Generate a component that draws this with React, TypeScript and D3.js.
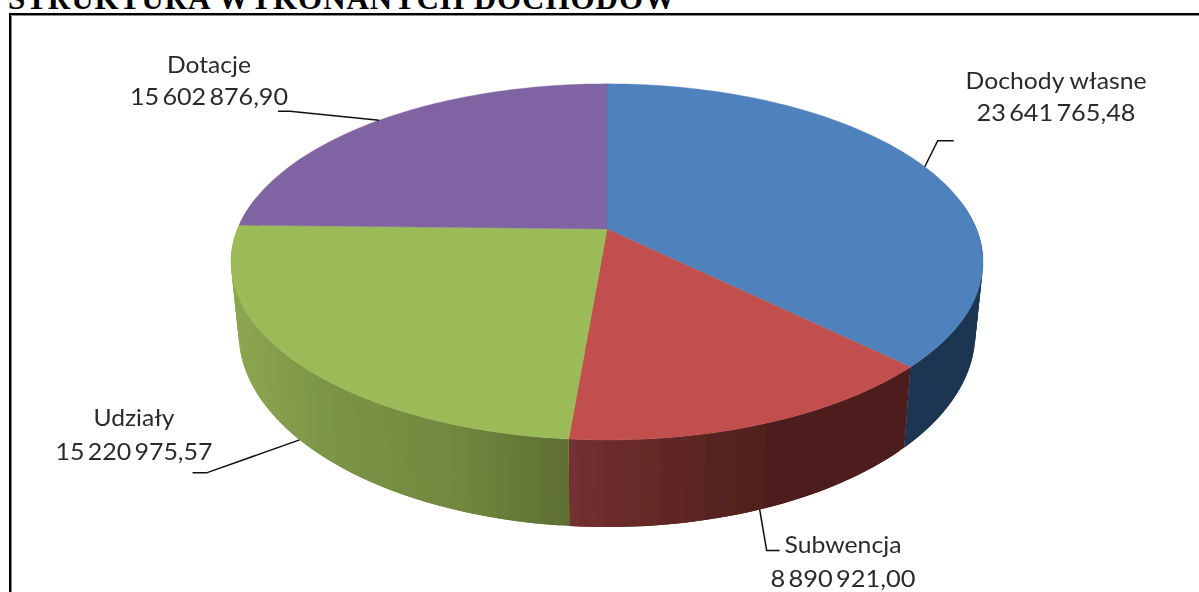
import React from "react";
import * as d3 from "d3";

const title = "STRUKTURA WYKONANYCH DOCHODÓW";
const categories = ["Dochody własne", "Subwencja", "Udziały", "Dotacje"];
const values = [23641765.48, 8890921.0, 15220975.57, 15602876.9];
const valueLabels = ["23 641 765,48", "8 890 921,00", "15 220 975,57", "15 602 876,90"];
const topColors = ["#4f81bd", "#c0504d", "#9bbb59", "#8064a2"];
const wallStops = [
  { xs: [600, 1000], cs: ["#1f3552", "#1f3552"] },
  { xs: [569, 770], cs: ["#743030", "#4e1f1c"] },
  { xs: [235, 330, 450, 569], cs: ["#8ca650", "#7a9446", "#72893f", "#5d6e32"] },
  { xs: [0, 1000], cs: ["#6a5388", "#6a5388"] },
];
// leader elbows relative to the anchor: [dx, dy] pairs
const leaderElbows = [
  [[13, -26], [29, -26]],
  [[7, 41], [20, 41]],
  [[-93, 33], [-107, 33]],
  [[-89, -9], [-101, -9]],
];
const anchorOnWall = [false, true, true, false];
const labelPos = [
  { x: 1056, y: [89, 121], w: [181, 159] },
  { x: 843, y: [553, 587], w: [117, 145] },
  { x: 134, y: [426, 460], w: [81, 157] },
  { x: 209, y: [73, 105], w: [84, 158] },
];

const cx = 607, cy = 229;
const k = 0.185;
const topA = 369.5, topB = 172;
const botA = 362, botB = 187.5, botCy = 297;

const proj = (t: number, A: number, B: number, yc: number): [number, number] => {
  const u = Math.sin(t), v = -Math.cos(t);
  const d = 1 - k * v;
  return [cx + (A * u) / d, yc + (B * v) / d];
};
const top = (t: number) => proj(t, topA, topB, cy);
const bot = (t: number) => proj(t, botA, botB, botCy);

const arcs = d3.pie<number>().sort(null).startAngle(0).endAngle(2 * Math.PI)(values);
const line = d3.line();

const STEP = (1.2 * Math.PI) / 180;
const samples = (a: number, b: number) => {
  const n = Math.max(2, Math.ceil((b - a) / STEP));
  return d3.range(n + 1).map((i) => a + ((b - a) * i) / n);
};

export default function App() {
  return (
    <svg width={1199} height={592} style={{ position: "absolute", left: 0, top: 0, background: "#fff" }}>
      <defs>
        <filter id="soft" x="0" y="0" width="1199" height="592" filterUnits="userSpaceOnUse" primitiveUnits="userSpaceOnUse">
          <feGaussianBlur stdDeviation="0.45" />
        </filter>
      </defs>
      <text x={8} y={8.5} fontFamily="Liberation Serif" fontWeight="bold" fontSize={31} fill="#000"
        textLength={667} lengthAdjust="spacing">{title}</text>
      <path d="M1199,14H10V592" fill="none" stroke="#000" strokeWidth={2} />
      <path d="M1199,15.5H11.5V592" fill="none" stroke="#888" strokeWidth={1} />

      <g filter="url(#soft)">
        {arcs.map((a, i) => {
          const ts = samples(a.startAngle, a.endAngle);
          const sc = d3.scaleLinear<string>().domain(wallStops[i].xs).range(wallStops[i].cs).clamp(true);
          return (
            <g key={"w" + i}>
              {ts.slice(1).map((t, j) => {
                const p = ts[j];
                if (-Math.cos(p) < -0.15 && -Math.cos(t) < -0.15) return null;
                const next = ts[Math.min(j + 2, ts.length - 1)];
                const pts = [top(p), top(next), bot(next), bot(p)] as [number, number][];
                const mid = top((p + t) / 2);
                return <path key={j} d={line(pts) + "Z"} fill={sc(mid[0])} />;
              })}
            </g>
          );
        })}

        {arcs.map((a, i) => {
          const pts = [[cx, cy] as [number, number], ...samples(a.startAngle, a.endAngle).map(top)];
          return <path key={"t" + i} d={line(pts) + "Z"} fill={topColors[i]} stroke={topColors[i]} strokeWidth={0.4} />;
        })}

        {arcs.map((a, i) => {
          const mid = (a.startAngle + a.endAngle) / 2;
          const [ax, ay] = anchorOnWall[i] ? bot(mid) : top(mid);
          const pts = [[ax, ay], ...leaderElbows[i].map(([dx, dy]) => [ax + dx, ay + dy])] as [number, number][];
          return <path key={"l" + i} d={line(pts)!} fill="none" stroke="#111" strokeWidth={1.5} />;
        })}

        {categories.map((c, i) => (
          <g key={c} fontFamily="Lato" fontSize={24} fill="#2a2a2a" textAnchor="middle">
            <text x={labelPos[i].x} y={labelPos[i].y[0]} textLength={labelPos[i].w[0]} lengthAdjust="spacingAndGlyphs">{c}</text>
            <text x={labelPos[i].x} y={labelPos[i].y[1]} textLength={labelPos[i].w[1]} lengthAdjust="spacingAndGlyphs" wordSpacing={-3}>{valueLabels[i]}</text>
          </g>
        ))}
      </g>
    </svg>
  );
}
